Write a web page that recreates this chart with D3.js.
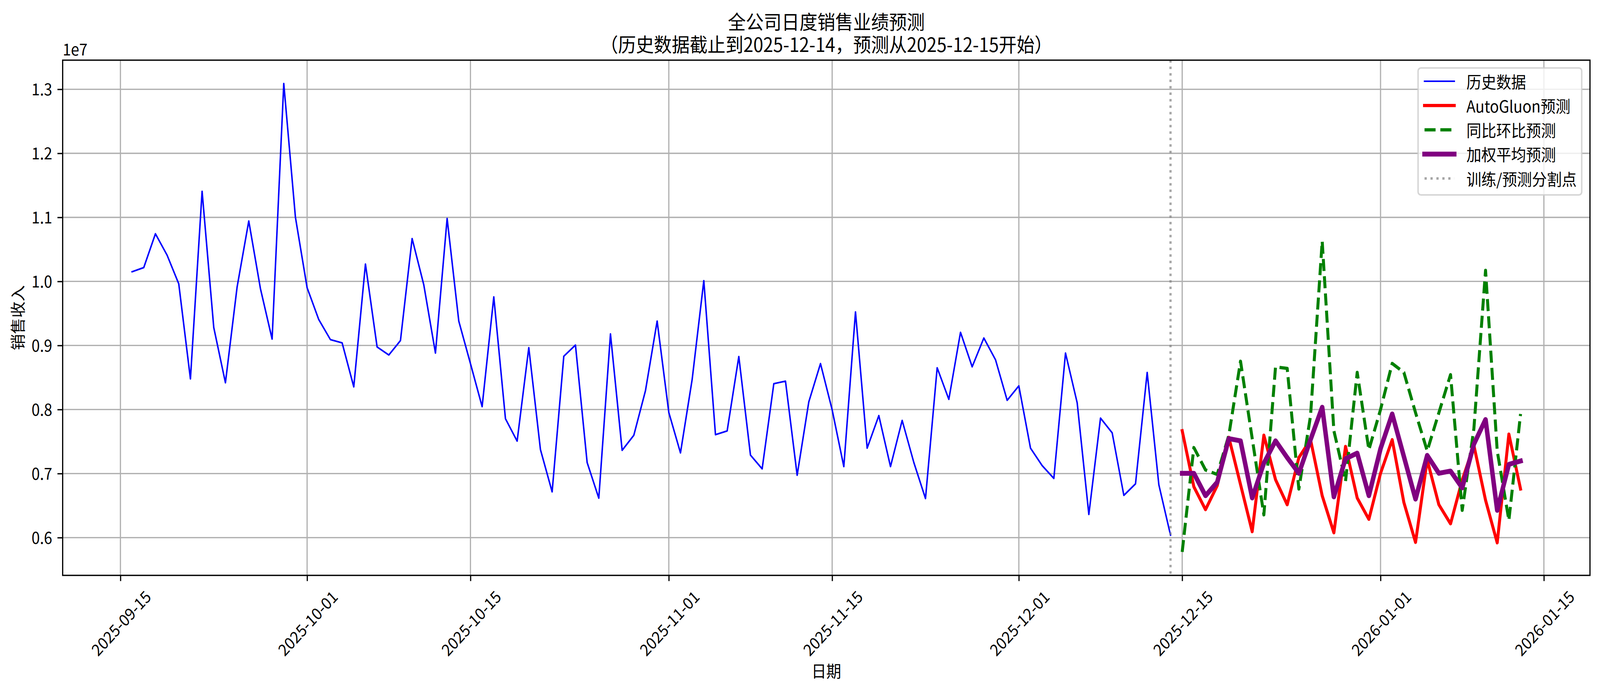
<!DOCTYPE html>
<html><head><meta charset="utf-8">
<script src="https://cdn.jsdelivr.net/npm/d3@7"></script>
<style>html,body{margin:0;padding:0;background:#fff;overflow:hidden}svg{display:block;width:100vw;height:100vh}text{font-family:"Noto Sans CJK SC","Noto Sans",sans-serif;fill:#000}</style>
</head><body>
<svg id="chart" viewBox="0 0 4468 1769" preserveAspectRatio="none"></svg>
<script>
// ---------------- data ----------------
const titleLines = ["全公司日度销售业绩预测", "（历史数据截止到2025-12-14，预测从2025-12-15开始）"];
const xAxisTitle = "日期";
const yAxisTitle = "销售收入";
const seriesNames = ["历史数据", "AutoGluon预测", "同比环比预测", "加权平均预测", "训练/预测分割点"];
const historyStart = "2025-09-16";
const forecastStart = "2025-12-15";
const splitDate = "2025-12-14";
const historyValues = [
  10151000,10216000,10744000,10410000,9962000,8478000,11406000,9280000,8418000,9912000,
  10943000,9887000,9100000,13089000,11000000,9902000,9404000,9091000,9041000,8354000,
  10271000,8976000,8851000,9076000,10669000,9947000,8881000,10983000,9380000,8717000,
  8045000,9758000,7856000,7507000,8966000,7373000,6715000,8832000,9006000,7173000,
  6616000,9180000,7363000,7597000,8294000,9380000,7955000,7323000,8468000,10012000,
  7607000,7666000,8827000,7288000,7074000,8403000,8443000,6974000,8120000,8717000,
  7995000,7109000,9524000,7397000,7905000,7109000,7830000,7173000,6610000,8652000,
  8159000,9205000,8667000,9116000,8777000,8144000,8369000,7397000,7124000,6924000,
  8881000,8105000,6362000,7866000,7636000,6660000,6840000,8578000,6825000,6038000
];
const autogluonValues = [
  7669000,6794000,6437000,6811000,7564000,6829000,6094000,7599000,6906000,6514000,
  7249000,7530000,6654000,6076000,7424000,6619000,6286000,7004000,7529000,6549000,
  5926000,7214000,6514000,6216000,6899000,7441000,6584000,5919000,7616000,6759000
];
const yoyValues = [
  5776000,7406000,7056000,6986000,7600000,8754000,7550000,6356000,8666000,8642000,
  6759000,7900000,10627000,7669000,6881000,8579000,7371000,8000000,8719000,8579000,
  7950000,7354000,7950000,8544000,6426000,7700000,10172000,7354000,6270000,7931000
];
const weightedValues = [
  7004000,7004000,6654000,6864000,7546000,7511000,6619000,7161000,7511000,7249000,
  7004000,7530000,8036000,6636000,7231000,7319000,6654000,7389000,7931000,7266000,
  6601000,7284000,7004000,7039000,6776000,7459000,7844000,6426000,7144000,7196000
];
const xTickLabels = ["2025-09-15","2025-10-01","2025-10-15","2025-11-01","2025-11-15","2025-12-01","2025-12-15","2026-01-01","2026-01-15"];
const yTickValues = [6000000,7000000,8000000,9000000,10000000,11000000,12000000,13000000];
const yOffsetLabel = "1e7";

// ---------------- layout ----------------
const PT = 300/72;              // px per point
const FS = 10*PT;               // base font size
const M = {left:175, right:4440, top:154, bottom:1473};
const svg = d3.select("#chart");
const parse = d3.utcParse("%Y-%m-%d");

const histDates = historyValues.map((v,i)=>d3.utcDay.offset(parse(historyStart), i));
const fcDates = autogluonValues.map((v,i)=>d3.utcDay.offset(parse(forecastStart), i));
const [d0, d1] = d3.extent(histDates.concat(fcDates));
const xpad = (d1 - d0)*0.05;
const x = d3.scaleUtc().domain([new Date(+d0 - xpad), new Date(+d1 + xpad)]).range([M.left, M.right]);
const allVals = historyValues.concat(autogluonValues, yoyValues, weightedValues);
const [v0, v1] = d3.extent(allVals);
const ypad = (v1 - v0)*0.05;
const y = d3.scaleLinear().domain([v0 - ypad, v1 + ypad]).range([M.bottom, M.top]);

const xTicks = xTickLabels.map(parse);

// grid
const grid = svg.append("g");
grid.selectAll("line.gx").data(xTicks).join("line")
  .attr("x1", d=>x(d)).attr("x2", d=>x(d)).attr("y1", M.top).attr("y2", M.bottom)
  .attr("stroke", "#b0b0b0").attr("stroke-width", 0.8*PT);
grid.selectAll("line.gy").data(yTickValues).join("line")
  .attr("x1", M.left).attr("x2", M.right).attr("y1", d=>y(d)).attr("y2", d=>y(d))
  .attr("stroke", "#b0b0b0").attr("stroke-width", 0.8*PT);

// series
const line = d3.line().x(d=>x(d[0])).y(d=>y(d[1]));
const series = [
  {vals: historyValues, dates: histDates, color:"#0000ff", lw:1, dash:null},
  {vals: autogluonValues, dates: fcDates, color:"#ff0000", lw:2, dash:null},
  {vals: yoyValues, dates: fcDates, color:"#008000", lw:2, dash:[3.7,1.6]},
  {vals: weightedValues, dates: fcDates, color:"#800080", lw:3, dash:null}
];
series.forEach(s=>{
  svg.append("path")
    .attr("d", line(s.vals.map((v,i)=>[s.dates[i], v])))
    .attr("fill","none").attr("stroke", s.color)
    .attr("stroke-width", s.lw*PT)
    .attr("stroke-linejoin","round")
    .attr("stroke-linecap", s.dash ? "butt" : "square")
    .attr("stroke-dasharray", s.dash ? s.dash.map(v=>v*s.lw*PT).join(",") : null);
});
// split line
const splitX = x(parse(splitDate));
svg.append("line").attr("x1",splitX).attr("x2",splitX).attr("y1",M.top).attr("y2",M.bottom)
  .attr("stroke","#808080").attr("stroke-opacity",0.7).attr("stroke-width",1.5*PT)
  .attr("stroke-dasharray",[1*1.5*PT,1.65*1.5*PT].join(","));

// spines
svg.append("rect").attr("x",M.left).attr("y",M.top).attr("width",M.right-M.left).attr("height",M.bottom-M.top)
  .attr("fill","none").attr("stroke","#000").attr("stroke-width",0.8*PT);

// y axis
const yAxis = d3.axisLeft(y).tickValues(yTickValues).tickFormat(d=>(d/1e7).toFixed(1))
  .tickSize(3.5*PT).tickPadding(3.5*PT);
const gy = svg.append("g").attr("transform",`translate(${M.left},0)`).call(yAxis);
gy.select(".domain").remove();
gy.selectAll(".tick line").attr("stroke","#000").attr("stroke-width",0.8*PT);
gy.selectAll(".tick text").attr("font-size",FS).attr("fill","#000").attr("dy","0.36em")
  .style("font-family",'"Noto Sans CJK SC"');
svg.append("text").attr("x",M.left).attr("y",M.top-12).attr("font-size",FS).text(yOffsetLabel);

// x axis
const xAxis = d3.axisBottom(x).tickValues(xTicks).tickFormat(d3.utcFormat("%Y-%m-%d"))
  .tickSize(3.5*PT).tickPadding(3.5*PT);
const gx = svg.append("g").attr("transform",`translate(0,${M.bottom})`).call(xAxis);
gx.select(".domain").remove();
gx.selectAll(".tick line").attr("stroke","#000").attr("stroke-width",0.8*PT);
gx.selectAll(".tick text").each(function(){
  const t = d3.select(this);
  t.attr("font-size",FS).attr("fill","#000").style("font-family",'"Noto Sans CJK SC"')
   .attr("y",null).attr("dy",null);
  const w = this.getComputedTextLength();
  const h = FS*1.1;
  const bh = (w + h)*Math.SQRT1_2;
  const cy = 7*PT + bh/2;
  t.attr("text-anchor","middle").attr("dominant-baseline","central")
   .attr("transform",`translate(0,${cy}) rotate(-45)`);
});

// axis titles
svg.append("text").attr("x",(M.left+M.right)/2).attr("y",1716).attr("font-size",FS)
  .attr("text-anchor","middle").attr("dominant-baseline","central").text(xAxisTitle);
svg.append("text").attr("transform",`translate(48,${(M.top+M.bottom)/2}) rotate(-90)`).attr("font-size",FS)
  .attr("text-anchor","middle").attr("dominant-baseline","central").text(yAxisTitle);

// title (one text element, two lines)
const TFS = 12*PT;
const title = svg.append("text").attr("font-size",TFS).attr("text-anchor","middle");
titleLines.forEach((t,i)=>{
  title.append("tspan").attr("x",(M.left+M.right)/2).attr("y",53 + i*58)
    .attr("dominant-baseline","central").text(t);
});

// legend
const lg = svg.append("g");
lg.append("rect").attr("x",3960).attr("y",174).attr("width",457).attr("height",325).attr("rx",8).attr("ry",8)
  .attr("fill","#fff").attr("fill-opacity",0.8).attr("stroke","#cccccc").attr("stroke-opacity",0.8).attr("stroke-width",1*PT);
const legendItems = [
  {color:"#0000ff", lw:1, dash:null, cap:"square"},
  {color:"#ff0000", lw:2, dash:null, cap:"square"},
  {color:"#008000", lw:2, dash:[3.7,1.6], cap:"butt"},
  {color:"#800080", lw:3, dash:null, cap:"square"},
  {color:"#808080", lw:1.5, dash:[1,1.65], cap:"butt", op:0.7}
];
legendItems.forEach((it,i)=>{
  const cy = 208 + i*62.2;
  lg.append("line").attr("x1",3978).attr("x2",4061).attr("y1",cy).attr("y2",cy)
    .attr("stroke",it.color).attr("stroke-opacity",it.op||1).attr("stroke-width",it.lw*PT)
    .attr("stroke-linecap",it.cap)
    .attr("stroke-dasharray", it.dash ? it.dash.map(v=>v*it.lw*PT).join(",") : null);
  lg.append("text").attr("x",4095).attr("y",cy).attr("font-size",FS)
    .attr("dominant-baseline","central").text(seriesNames[i]);
});
</script>
</body></html>
